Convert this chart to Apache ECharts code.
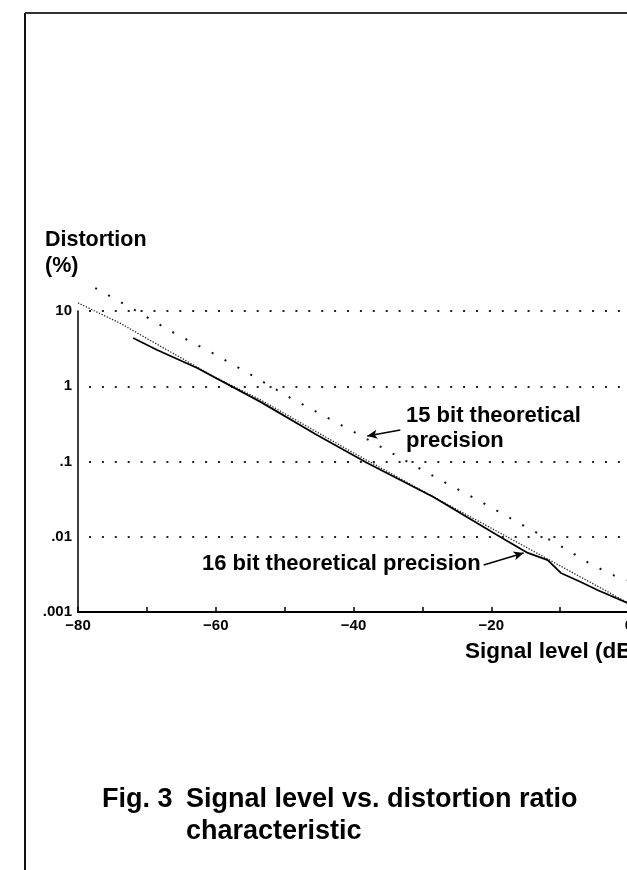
<!DOCTYPE html>
<html>
<head>
<meta charset="utf-8">
<script src="https://cdn.jsdelivr.net/npm/echarts@6/dist/echarts.min.js"></script>
<style>
html,body{margin:0;padding:0;background:#fff;}
#chart{width:627px;height:870px;}
</style>
</head>
<body>
<div id="chart"></div>
<script>
// ---- data ----
// x: signal level (dB), y: distortion (%)
const bit15Theory = [[-77.5, 20.2], [-72.0, 10.6], [-66.3, 5.26], [-60.5, 2.77], [-55.1, 1.46],
  [-49.6, 0.74], [-44.0, 0.39], [-38.6, 0.212], [-32.9, 0.108], [-27.1, 0.055], [-21.7, 0.0299],
  [-16.0, 0.0152], [-10.7, 0.0083], [-5.3, 0.0042], [-1.4, 0.00283], [0, 0.0026]];
const bit16Theory = [[-80, 12.8], [-73.9, 6.9], [-60, 1.3], [-53.5, 0.66], [-40, 0.13], [-28.4, 0.034], [-20, 0.013], [0, 0.0013]];
const measured16 = [[-72.0, 4.37], [-68.5, 3.03], [-62.7, 1.75], [-53.5, 0.62], [-45.3, 0.225],
  [-38.0, 0.0955], [-28.4, 0.0337], [-19.1, 0.0105], [-14.7, 0.0061], [-11.8, 0.0049],
  [-9.9, 0.0033], [-7.0, 0.0025], [-4.6, 0.00196], [-0.2, 0.00132]];
const arrow15 = [[-33.2, 0.262], [-38.0, 0.218]];
const arrow16 = [[-21.1, 0.00421], [-15.3, 0.00608]];

const xLabelled = [-80, -60, -40, -20, 0];
const yTickValues = [0.001, 0.01, 0.1, 1, 10];
const yTickLabels = ['.001', '.01', '.1', '1', '10'];

const FONT = '"Liberation Sans", Arial, Helvetica, sans-serif';

function yLabel(v) {
  for (let i = 0; i < yTickValues.length; i++) {
    if (Math.abs(Math.log10(v) - Math.log10(yTickValues[i])) < 1e-6) return yTickLabels[i];
  }
  return '';
}
function xLabel(v) {
  if (xLabelled.indexOf(v) < 0) return '';
  return v < 0 ? '\u2212' + Math.abs(v) : String(v);
}
function txt(text, x, y, size, weight) {
  return {
    type: 'text', x: x, y: y, silent: true,
    style: {
      text: text, fill: '#000',
      font: (weight || 'bold') + ' ' + size + 'px ' + FONT,
      fontSize: size, fontWeight: weight || 'bold', fontFamily: FONT,
      align: 'left', textAlign: 'left', verticalAlign: 'middle', textVerticalAlign: 'middle'
    }
  };
}

const chart = echarts.init(document.getElementById('chart'), null, {renderer: 'canvas'});
chart.setOption({
  backgroundColor: '#fff',
  animation: false,
  grid: {left: 78, right: -2, top: 311, bottom: 258, containLabel: false, outerBoundsMode: 'none'},
  xAxis: {
    type: 'value', min: -80, max: 0, interval: 10,
    axisLine: {show: true, onZero: false, lineStyle: {color: '#000', width: 2}},
    axisTick: {show: true, inside: true, length: 5, lineStyle: {color: '#000', width: 1.5}},
    axisLabel: {show: true, formatter: xLabel, color: '#000', fontSize: 15, fontWeight: 'bold', fontFamily: FONT, margin: 6,
      showMaxLabel: true, showMinLabel: true, hideOverlap: false},
    splitLine: {show: false}
  },
  yAxis: {
    type: 'log', logBase: 10, min: 0.001, max: 10,
    axisLine: {show: true, onZero: false, lineStyle: {color: '#000', width: 1.5}},
    axisTick: {show: false},
    minorTick: {show: false},
    axisLabel: {show: true, formatter: yLabel, color: '#000', fontSize: 15, fontWeight: 'bold', fontFamily: FONT, margin: 6},
    splitLine: {show: true, lineStyle: {color: '#222', width: 2, type: [2, 10.9], dashOffset: 1.9}}
  },
  series: [
    {
      name: '15 bit theoretical precision', type: 'line', data: bit15Theory, clip: false,
      symbol: 'none', smooth: false, silent: true,
      lineStyle: {color: '#111', width: 2, type: [2, 12.8]}
    },
    {
      name: '16 bit theoretical precision', type: 'line', data: bit16Theory, clip: false,
      symbol: 'none', smooth: false, silent: true,
      lineStyle: {color: '#222', width: 1.3, type: [1.3, 1.6]}
    },
    {
      name: 'measured', type: 'line', data: measured16, clip: false,
      symbol: 'none', smooth: false, silent: true,
      lineStyle: {color: '#000', width: 1.8, type: 'solid'},
      markLine: {
        silent: true, symbol: ['none', 'arrow'], symbolSize: [7, 10], precision: 6,
        label: {show: false},
        lineStyle: {color: '#000', width: 1.5, type: 'solid'},
        data: [
          [{coord: arrow15[0]}, {coord: arrow15[1]}],
          [{coord: arrow16[0]}, {coord: arrow16[1]}]
        ]
      }
    }
  ],
  graphic: [
    {type: 'line', silent: true, shape: {x1: 25, y1: 13, x2: 25, y2: 870}, style: {stroke: '#111', lineWidth: 2}},
    {type: 'line', silent: true, shape: {x1: 25, y1: 13, x2: 627, y2: 13}, style: {stroke: '#333', lineWidth: 2}},
    txt('Distortion', 45, 240, 21.5),
    txt('(%)', 45, 266, 21.5),
    txt('15 bit theoretical', 406, 416, 22),
    txt('precision', 406, 441, 22),
    txt('16 bit theoretical precision', 202, 564, 22),
    txt('Signal level (dB)', 465, 652, 22.5),
    txt('Fig. 3', 102, 800, 27),
    txt('Signal level vs. distortion ratio', 186, 800, 27),
    txt('characteristic', 186, 832, 27)
  ]
});
</script>
</body>
</html>
